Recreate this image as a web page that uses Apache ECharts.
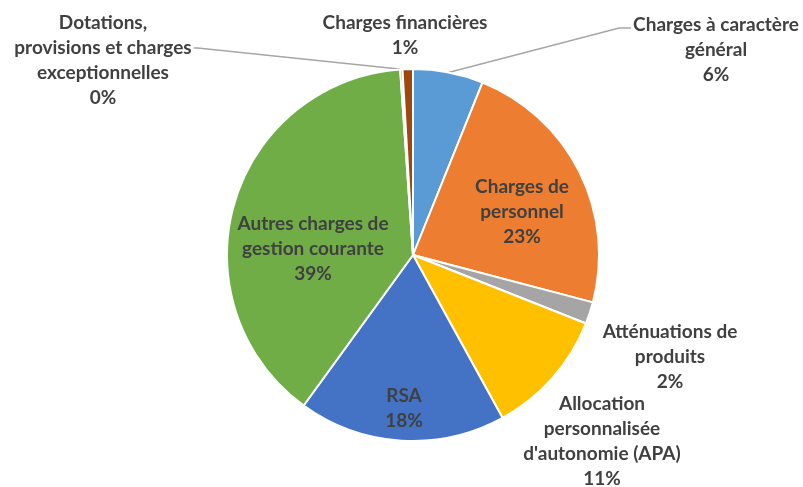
<!DOCTYPE html>
<html>
<head>
<meta charset="utf-8">
<script src="https://cdn.jsdelivr.net/npm/echarts@6/dist/echarts.min.js"></script>
<style>
  html, body { margin: 0; padding: 0; background: #fff; }
  #chart { width: 803px; height: 487px; }
</style>
</head>
<body>
<div id="chart"></div>
<script>
// Budget chapters (clockwise from 12 o'clock) and their share of spending, in %
const categories = [
  "Charges à caractère\ngénéral",
  "Charges de\npersonnel",
  "Atténuations de\nproduits",
  "Allocation\npersonnalisée\nd'autonomie (APA)",
  "RSA",
  "Autres charges de\ngestion courante",
  "Dotations,\nprovisions et charges\nexceptionnelles",
  "Charges financières"
];
const shares = [6.1, 23.0, 1.9, 11.0, 18.0, 38.9, 0.2, 0.9];
const colors = ["#5B9BD5", "#ED7D31", "#A5A5A5", "#FFC000", "#4472C4", "#70AD47", "#255E91", "#9E480E"];

// Label placement (label centre in px) and which labels get a leader line
const labelSpots = [
  { x: 716, y: 50, leader: true },
  { x: 522, y: 212 },
  { x: 670, y: 357 },
  { x: 602, y: 441 },
  { x: 404, y: 408 },
  { x: 313, y: 249 },
  { x: 103, y: 60, leader: true },
  { x: 405, y: 35 }
];

const total = shares.reduce((a, b) => a + b, 0);
const pct = v => Math.round(v / total * 100) + '%';

const chart = echarts.init(document.getElementById('chart'), null, { renderer: 'canvas' });

chart.setOption({
  animation: false,
  series: [{
    type: 'pie',
    center: [413, 255],
    radius: 186,
    startAngle: 90,
    clockwise: true,
    avoidLabelOverlap: false,
    itemStyle: { borderColor: '#fff', borderWidth: 2 },
    label: {
      show: true,
      position: 'outside',
      fontFamily: 'Lato, "Open Sans", sans-serif',
      fontWeight: 'bold',
      fontSize: 19,
      lineHeight: 25,
      color: '#404040',
      align: 'center',
      formatter: p => p.name + '\n' + pct(p.value)
    },
    labelLine: {
      show: true,
      length: 20,
      length2: 10,
      lineStyle: { color: '#A6A6A6', width: 1.5 }
    },
    labelLayout: p => {
      const s = labelSpots[p.dataIndex];
      const out = { x: s.x, y: s.y, align: 'center', verticalAlign: 'middle', hideOverlap: false };
      if (s.leader && p.labelLinePoints) {
        const start = p.labelLinePoints[0];
        const w = p.labelRect.width;
        if (p.dataIndex === 0) {
          const endX = s.x - w / 2 - 2, endY = s.y - 22;
          out.labelLinePoints = [start, [endX - 12, endY], [endX, endY]];
        } else {
          const endX = s.x + w / 2 + 2, endY = s.y - 12;
          out.labelLinePoints = [start, [endX + 4, endY], [endX, endY]];
        }
      }
      return out;
    },
    data: categories.map((name, i) => ({
      name,
      value: shares[i],
      itemStyle: { color: colors[i] },
      labelLine: { show: !!labelSpots[i].leader }
    }))
  }]
});
</script>
</body>
</html>
